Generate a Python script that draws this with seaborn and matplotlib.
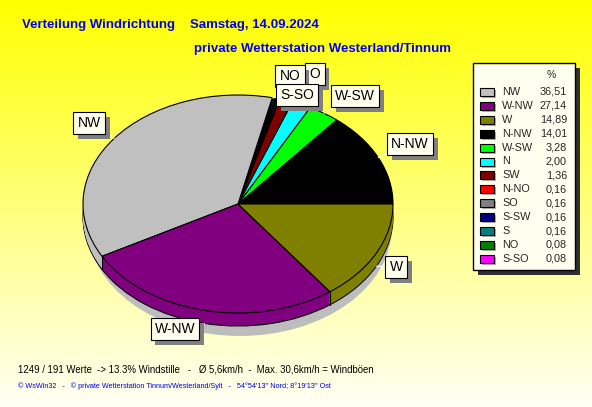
import numpy as np

import matplotlib
matplotlib.use("Agg")

import matplotlib.pyplot as plt
import matplotlib.patches as mpatches
import matplotlib.patheffects as pe
import seaborn as sns


# =========================
# DATA
# =========================

# legend order (sorted by share)
legend_labels = [
    "NW", "W-NW", "W", "N-NW", "W-SW", "N", "SW",
    "N-NO", "SO", "S-SW", "S", "NO", "S-SO"
]

legend_values = [
    36.51, 27.14, 14.89, 14.01, 3.28, 2.00, 1.36,
    0.16, 0.16, 0.16, 0.16, 0.08, 0.08
]

legend_colors = [
    "#C0C0C0", "#800080", "#808000", "#000000", "#00FF00", "#00FFFF", "#800000",
    "#FF0000", "#808080", "#000080", "#008080", "#008000", "#FF00FF"
]

# pie order, counterclockwise from east
pie_order = [
    "N-NW", "W-SW", "N", "SW", "N-NO", "SO", "S-SW",
    "S", "NO", "S-SO", "NW", "W-NW", "W"
]

# labels written next to the pie (drawn in this order)
pie_labels = ["O", "NO", "S-SO", "W-SW", "N-NW", "W", "W-NW", "NW"]

title_left = "Verteilung Windrichtung"
title_date = "Samstag, 14.09.2024"
title_station = "private Wetterstation Westerland/Tinnum"

footer_main = (
    "1249 / 191 Werte  -> 13.3% Windstille   -   "
    "Ø 5,6km/h  -  Max. 30,6km/h = Windböen"
)
footer_small = (
    "© WsWin32   -   © private Wetterstation Tinnum/Westerland/Sylt   -   "
    "54°54'13'' Nord; 8°19'13'' Ost"
)


# =========================
# STYLE
# =========================

sns.set_style("white")

plt.rcParams["font.family"] = ["Liberation Sans", "DejaVu Sans"]

value_of = dict(zip(legend_labels, legend_values))
color_of = dict(zip(legend_labels, legend_colors))

pie_values = [value_of[k] for k in pie_order]
pie_colors = sns.color_palette([color_of[k] for k in pie_order])

W_PX, H_PX = 592, 407

BLUE = "#0000F0"
BOX_FILL = "#FFFFF0"


# =========================
# FIGURE + BACKGROUND
# =========================

fig = plt.figure(figsize=(W_PX / 100, H_PX / 100), dpi=100)

ax = fig.add_axes([0, 0, 1, 1])
ax.set_xlim(0, W_PX)
ax.set_ylim(H_PX, 0)
ax.set_axis_off()

top = np.array([1.0, 1.0, 0.0])
bottom = np.array([1.0, 1.0, 0.96])
t = np.linspace(0, 1, 256)[:, None]
grad = top + (bottom - top) * t
grad = np.repeat(grad[:, None, :], 2, axis=1)

ax.imshow(
    grad,
    extent=(0, W_PX, H_PX, 0),
    aspect="auto",
    zorder=0
)


# =========================
# PIE (elliptic, with depth)
# =========================

cx, cy = 238, 204        # centre in pixels (from top)
rx, ry = 155, 109        # ellipse radii in pixels
depth_px = 13

pax = fig.add_axes([0, 0, 1, 1])
pax.patch.set_alpha(0)

d = depth_px / ry

# drop shadow
pax.add_patch(
    mpatches.Ellipse(
        (2 / rx, -(depth_px + 10) / ry),
        1.96, 2,
        facecolor="#BDBDBD",
        edgecolor="none",
        zorder=1
    )
)

# bottom outline
pax.pie(
    pie_values,
    colors=pie_colors,
    startangle=0,
    counterclock=True,
    center=(0, -d),
    wedgeprops=dict(edgecolor="black", linewidth=0.8)
)

# side layers
for off in np.linspace(d - 1 / ry, 0, depth_px):
    pax.pie(
        pie_values,
        colors=pie_colors,
        startangle=0,
        counterclock=True,
        center=(0, -off),
        wedgeprops=dict(edgecolor="none", linewidth=0)
    )

# vertical edges between wedges on the front side
bounds = np.cumsum([0] + pie_values) / sum(pie_values) * 2 * np.pi
for a in bounds:
    if np.sin(a) < -0.05:
        pax.plot(
            [np.cos(a), np.cos(a)],
            [np.sin(a), np.sin(a) - d],
            color="black",
            linewidth=0.8,
            zorder=3
        )

# top surface
pax.pie(
    pie_values,
    colors=pie_colors,
    startangle=0,
    counterclock=True,
    wedgeprops=dict(edgecolor="black", linewidth=0.8)
)

pax.set_aspect("auto")
pax.set_xlim(-cx / rx, (W_PX - cx) / rx)
pax.set_ylim(-(H_PX - cy) / ry, cy / ry)
pax.set_axis_off()


# =========================
# PIE LABELS
# =========================

label_pos = {
    "NW": (89, 123),
    "W-NW": (175, 329),
    "W": (396, 267),
    "N-NW": (410, 144),
    "W-SW": (355, 96),
    "S-SO": (297, 95),
    "NO": (290, 76),
    "O": (315, 74),
}

mid_of = {}
for name, a0, a1 in zip(pie_order, bounds[:-1], bounds[1:]):
    mid_of[name] = (a0 + a1) / 2

lax = fig.add_axes([0, 0, 1, 1])
lax.patch.set_alpha(0)
lax.set_xlim(0, W_PX)
lax.set_ylim(H_PX, 0)
lax.set_axis_off()

box_shadow = [
    pe.SimplePatchShadow(offset=(3.5, -3.5), shadow_rgbFace="#808080", alpha=1.0),
    pe.Normal()
]

for k, name in enumerate(pie_labels):

    lx, ly = label_pos[name]

    if name in mid_of:
        a = mid_of[name]
        px = cx + rx * np.cos(a)
        py = cy - ry * np.sin(a)
        if np.sin(a) < 0:
            py += depth_px
        lax.plot(
            [px, lx],
            [py, ly],
            color="white",
            linewidth=0.8,
            zorder=2
        )

    txt = lax.text(
        lx, ly, name,
        fontsize=10,
        color="black",
        ha="center", va="center",
        bbox=dict(boxstyle="square,pad=0.3", fc=BOX_FILL, ec="black", lw=0.8),
        zorder=3 + k
    )
    txt.get_bbox_patch().set_path_effects(box_shadow)


# =========================
# LEGEND
# =========================

leg_x0, leg_y0 = 473, 63
leg_w, leg_h = 102, 207

lax.add_patch(
    mpatches.Rectangle(
        (leg_x0 + 5, leg_y0 + 5), leg_w, leg_h,
        facecolor="#303030", edgecolor="none", zorder=15
    )
)

lax.add_patch(
    mpatches.Rectangle(
        (leg_x0, leg_y0), leg_w, leg_h,
        facecolor=BOX_FILL, edgecolor="black", linewidth=1, zorder=16
    )
)

lax.text(
    551, 75, "%",
    fontsize=7.5, ha="center", va="center", zorder=17
)

row_step = 13.9

for i, (name, val, col) in enumerate(zip(legend_labels, legend_values, legend_colors)):

    y = 92 + i * row_step

    lax.add_patch(
        mpatches.Rectangle(
            (482, y - 2), 14, 8,
            facecolor="#B0B0B0", edgecolor="none", zorder=17
        )
    )

    lax.add_patch(
        mpatches.Rectangle(
            (480, y - 4), 14, 8,
            facecolor=col, edgecolor="black", linewidth=0.8, zorder=18
        )
    )

    lax.text(
        502, y, name,
        fontsize=7.8, ha="left", va="center", zorder=18
    )

    lax.text(
        567, y, f"{val:.2f}".replace(".", ","),
        fontsize=7.8, ha="right", va="center", zorder=18
    )


# =========================
# TITLES + FOOTER
# =========================

lax.text(
    22, 25, title_left,
    fontsize=9.5, fontweight="bold", color=BLUE,
    ha="left", va="center"
)

lax.text(
    190, 25, title_date,
    fontsize=9.5, fontweight="bold", color=BLUE,
    ha="left", va="center"
)

lax.text(
    194, 49, title_station,
    fontsize=9.5, fontweight="bold", color=BLUE,
    ha="left", va="center"
)

lax.text(
    18, 369, footer_main,
    fontsize=6.9, color="black",
    ha="left", va="center"
)

lax.text(
    18, 386, footer_small,
    fontsize=5.2, color=BLUE,
    ha="left", va="center"
)

plt.savefig("out.png", dpi=100)

plt.close()
